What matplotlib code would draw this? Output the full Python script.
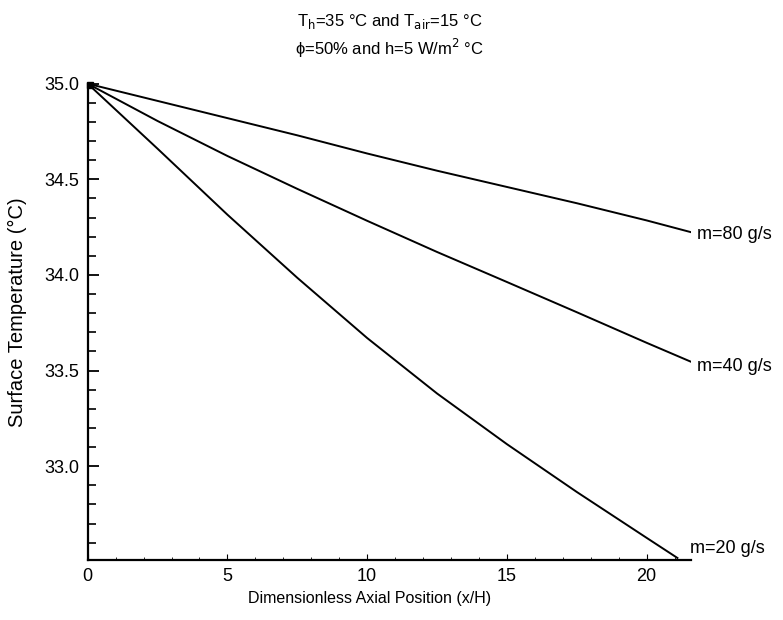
import matplotlib
matplotlib.use('Agg')
import matplotlib.pyplot as plt
from matplotlib.ticker import MultipleLocator

# data
x_pos = [0, 2.5, 5, 7.5, 10, 12.5, 15, 17.5, 20]
t_m80 = [35.0, 34.91, 34.82, 34.73, 34.635, 34.545, 34.46, 34.375, 34.285]
t_m40 = [35.0, 34.805, 34.622, 34.45, 34.283, 34.12, 33.963, 33.805, 33.645]
t_m20 = [35.0, 34.66, 34.315, 33.985, 33.67, 33.38, 33.115, 32.865, 32.625]
# end points of each curve
x_end = [21.6, 21.6, 21.1]
t_end = [34.223, 33.545, 32.52]
curve_labels = ["m=80 g/s", "m=40 g/s", "m=20 g/s"]
label_y = [34.21, 33.52, 32.57]

plt.rcParams['font.family'] = ['Liberation Sans', 'DejaVu Sans']

fig = plt.figure(figsize=(7.83, 6.2), dpi=100)
ax = fig.add_axes([0.112, 0.097, 0.771, 0.768])

series = [t_m80, t_m40, t_m20]
label_dx = [0.2, 0.2, 0.45]
for i in range(len(series)):
    xs = x_pos + [x_end[i]]
    ys = series[i] + [t_end[i]]
    ax.plot(xs, ys, color='black', lw=1.4)
    ax.text(x_end[i] + label_dx[i], label_y[i], curve_labels[i], fontsize=13,
            va='center', ha='left', clip_on=False)

# little square blob at the common start point
ax.plot([0.1], [34.995], marker='s', ms=4, color='black', clip_on=False)

ax.set_xlim(0, 21.6)
ax.set_ylim(32.51, 35.0)
ax.spines['top'].set_visible(False)
ax.spines['right'].set_visible(False)
ax.spines['left'].set_linewidth(1.6)
ax.spines['bottom'].set_linewidth(1.6)

ax.xaxis.set_major_locator(MultipleLocator(5))
ax.xaxis.set_minor_locator(MultipleLocator(1))
ax.yaxis.set_minor_locator(MultipleLocator(0.1))
ax.set_yticks([33.0, 33.5, 34.0, 34.5, 35.0])
ax.set_yticklabels(['33.0', '33.5', '34.0', '34.5', '35.0'])
ax.tick_params(axis='y', which='major', direction='in', length=8, width=1.3, labelsize=13, pad=6)
ax.tick_params(axis='y', which='minor', direction='in', length=6, width=1.2)
ax.tick_params(axis='x', which='major', direction='in', length=4, width=0.8, labelsize=13, pad=6)
ax.tick_params(axis='x', which='minor', direction='in', length=2, width=0.6)

ax.set_xlabel('Dimensionless Axial Position (x/H)', fontsize=11.5)
ax.xaxis.set_label_coords(0.467, -0.066)
ax.set_ylabel('Surface Temperature (°C)', fontsize=14.5)
ax.yaxis.set_label_coords(-0.1, 0.52)

fig.text(0.498, 0.965, r'T$_\mathrm{h}$=35 °C and T$_\mathrm{air}$=15 °C',
         ha='center', va='center', fontsize=12)
fig.text(0.498, 0.922, 'ϕ=50% and h=5 W/m$^2$ °C',
         ha='center', va='center', fontsize=12)

fig.savefig('out.png', dpi=100)
